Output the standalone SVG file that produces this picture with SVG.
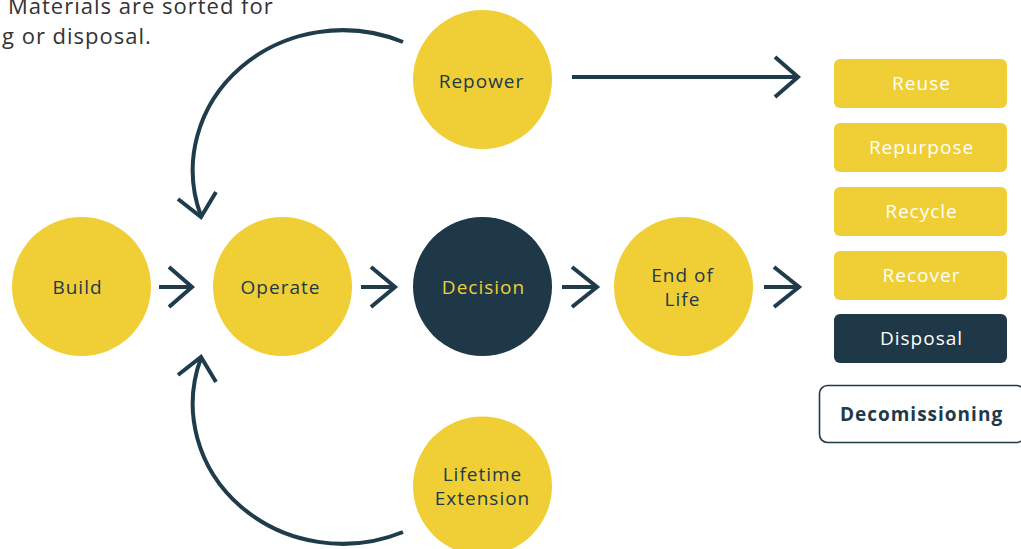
<svg xmlns="http://www.w3.org/2000/svg" width="1021" height="549" viewBox="0 0 1021 549">
  <style>
    .yc { fill: #F0CF36; }
    .dc { fill: #1F3847; }
    .lbl { font-family: "Open Sans", "Liberation Sans", sans-serif; font-size: 19px; letter-spacing: 1px; text-anchor: middle; dominant-baseline: central; }
    .dark { fill: #22394A; }
    .gold { fill: #F0CF36; }
    .white { fill: #FFFFFF; }
    .conn { fill: none; stroke: #1F3C4D; stroke-width: 4; stroke-linecap: butt; stroke-linejoin: miter; }
    .note { font-family: "Open Sans", "Liberation Sans", sans-serif; font-size: 22px; letter-spacing: 1px; fill: #333333; }
  </style>

  <!-- caption text -->
  <text class="note" x="8" y="14">Materials are sorted for</text>
  <text class="note" x="2" y="44">g or disposal.</text>

  <!-- connectors -->
  <g id="connectors">
    <path class="conn" d="M159,287 L192,287 M169,267 L192,287 L169,307"/>
    <path class="conn" d="M361,287 L395,287 M371,267 L395,287 L371,307"/>
    <path class="conn" d="M562,287 L597,287 M572,267 L597,287 L572,307"/>
    <path class="conn" d="M764,287 L799,287 M774,267 L799,287 L774,307"/>
    <path class="conn" d="M572,77 L798,77 M775,57 L798,77 L775,97"/>
    <!-- Repower loops back to Operate -->
    <path class="conn" d="M403,42 A150,140 0 0 0 201,216"/>
    <path class="conn" d="M178,199 L201,217 L216,192"/>
    <!-- Lifetime Extension loops back to Operate -->
    <path class="conn" d="M403,532 A150,140 0 0 1 201,358"/>
    <path class="conn" d="M178,375 L201,357 L216,382"/>
  </g>

  <g id="build">
    <circle class="yc" cx="81.5" cy="286.5" r="69.5"/>
    <text class="lbl dark" x="77.5" y="287">Build</text>
  </g>
  <g id="operate">
    <circle class="yc" cx="282.5" cy="286.5" r="69.5"/>
    <text class="lbl dark" x="280.5" y="287">Operate</text>
  </g>
  <g id="decision">
    <circle class="dc" cx="482.5" cy="286.5" r="69.5"/>
    <text class="lbl gold" x="483.5" y="287">Decision</text>
  </g>
  <g id="end-of-life">
    <circle class="yc" cx="683.5" cy="286.5" r="69.5"/>
    <text class="lbl dark" x="682.5" y="275">End of</text>
    <text class="lbl dark" x="682.5" y="299">Life</text>
  </g>
  <g id="repower">
    <circle class="yc" cx="482.5" cy="79.5" r="69.5"/>
    <text class="lbl dark" x="481.5" y="81">Repower</text>
  </g>
  <g id="lifetime-extension">
    <circle class="yc" cx="482.5" cy="486" r="69.5"/>
    <text class="lbl dark" x="482.5" y="474">Lifetime</text>
    <text class="lbl dark" x="482.5" y="498">Extension</text>
  </g>

  <g id="reuse">
    <rect class="yc" x="834" y="59" width="173" height="49" rx="6"/>
    <text class="lbl white" x="921.5" y="83">Reuse</text>
  </g>
  <g id="repurpose">
    <rect class="yc" x="834" y="123" width="173" height="49" rx="6"/>
    <text class="lbl white" x="921.5" y="147">Repurpose</text>
  </g>
  <g id="recycle">
    <rect class="yc" x="834" y="187" width="173" height="49" rx="6"/>
    <text class="lbl white" x="921.5" y="211">Recycle</text>
  </g>
  <g id="recover">
    <rect class="yc" x="834" y="251" width="173" height="49" rx="6"/>
    <text class="lbl white" x="921.5" y="275">Recover</text>
  </g>
  <g id="disposal">
    <rect class="dc" x="834" y="314" width="173" height="49" rx="6"/>
    <text class="lbl white" x="921.5" y="338">Disposal</text>
  </g>
  <g id="decomissioning">
    <rect x="819.5" y="385.5" width="205" height="57" rx="8" fill="#FFFFFF" stroke="#22394A" stroke-width="1.6"/>
    <text class="lbl dark" x="921.5" y="414" font-weight="bold">Decomissioning</text>
  </g>
</svg>
